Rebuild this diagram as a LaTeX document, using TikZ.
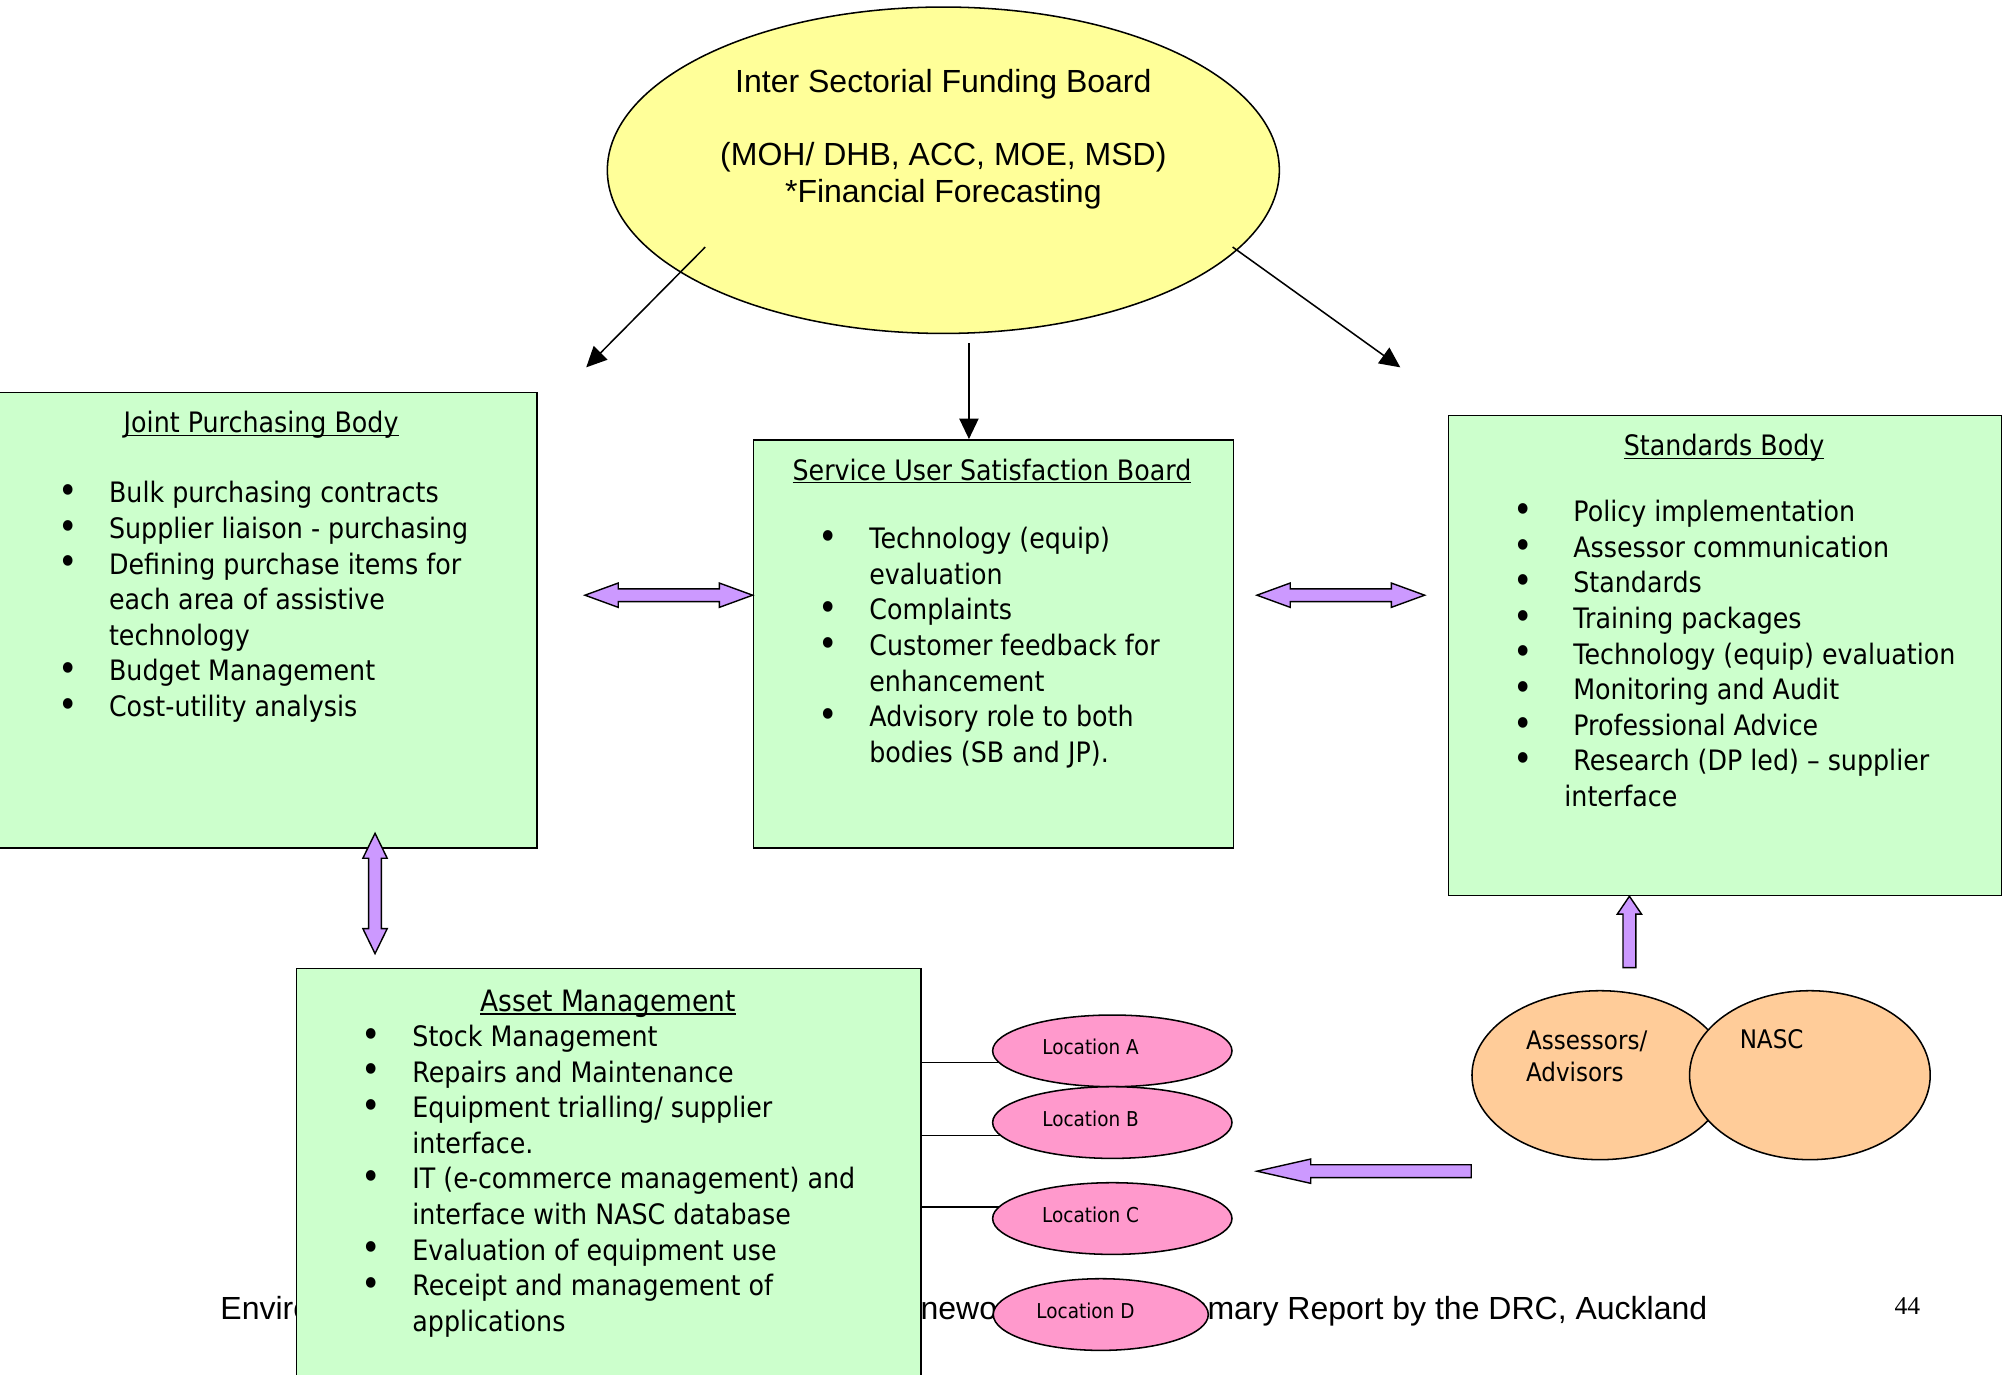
\documentclass[tikz,border=0pt]{standalone}
\usepackage{fontspec}
\setmainfont{Liberation Sans}
\newfontfamily\tah{DejaVu Sans}[FakeStretch=0.9]
\newfontfamily\tms{Liberation Serif}
\usetikzlibrary{shapes.geometric,arrows.meta,calc}
\definecolor{isfbyellow}{HTML}{FFFF99}
\definecolor{boxgreen}{HTML}{CCFFCC}
\definecolor{arrowpurple}{HTML}{CC99FF}
\definecolor{locpink}{HTML}{FF99CC}
\definecolor{assorange}{HTML}{FFCC99}
\newcommand{\bodyf}{\tah\fontsize{22}{27.8}\selectfont}
\newcommand{\itm}[2][64pt]{\strut\llap{\makebox[#1]{\raisebox{-0.6pt}{\scalebox{1.3}{\textbullet}}}}#2}
\newcommand{\ulx}[1]{{\setbox0\hbox{#1}\rlap{\rule[-2.6pt]{\wd0}{1.1pt}}\box0}}
% block arrows
\newcommand{\dblH}[3]{\draw[parrow] let \p1=(#1),\p2=(#2) in (\x1,\y1) -- (\x1+#3,\y1+9.5pt) -- (\x1+#3,\y1+5pt) -- (\x2-#3,\y1+5pt) -- (\x2-#3,\y1+9.5pt) -- (\x2,\y1) -- (\x2-#3,\y1-9.5pt) -- (\x2-#3,\y1-5pt) -- (\x1+#3,\y1-5pt) -- (\x1+#3,\y1-9.5pt) -- cycle;}
\newcommand{\dblV}[3]{\draw[parrow] let \p1=(#1),\p2=(#2) in (\x1,\y1) -- (\x1+9.5pt,\y1-#3) -- (\x1+5pt,\y1-#3) -- (\x1+5pt,\y2+#3) -- (\x1+9.5pt,\y2+#3) -- (\x1,\y2) -- (\x1-9.5pt,\y2+#3) -- (\x1-5pt,\y2+#3) -- (\x1-5pt,\y1-#3) -- (\x1-9.5pt,\y1-#3) -- cycle;}
\newcommand{\sglUp}[3]{\draw[parrow] let \p1=(#1),\p2=(#2) in (\x1,\y1) -- (\x1+9.5pt,\y1-#3) -- (\x1+5pt,\y1-#3) -- (\x1+5pt,\y2) -- (\x1-5pt,\y2) -- (\x1-5pt,\y1-#3) -- (\x1-9.5pt,\y1-#3) -- cycle;}
\newcommand{\sglLeft}[3]{\draw[parrow] let \p1=(#1),\p2=(#2) in (\x1,\y1) -- (\x1+#3,\y1+9.5pt) -- (\x1+#3,\y1+5pt) -- (\x2,\y1+5pt) -- (\x2,\y1-5pt) -- (\x1+#3,\y1-5pt) -- (\x1+#3,\y1-9.5pt) -- cycle;}
\pgfdeclarelayer{bg}
\pgfsetlayers{bg,main}
\begin{document}
\begin{tikzpicture}[x=1pt,y=-1pt,
  greenbox/.style={draw=black,line width=1.2pt,fill=boxgreen,rectangle,inner sep=0pt,anchor=north west},
  conn/.style={line width=1.2pt,-{Triangle[length=16pt,width=15pt]}},
  parrow/.style={draw=black,line width=1.1pt,fill=arrowpurple,line join=miter},
  plain/.style={line width=1.2pt},
  listtext/.style={anchor=north west,inner sep=0pt,align=left,font=\bodyf},
  headtext/.style={anchor=base,inner sep=0pt,font=\bodyf},
  loc/.style={ellipse,draw=black,line width=1.2pt,fill=locpink,inner sep=0pt,minimum height=56pt,minimum width=187pt},
  loctext/.style={inner sep=0pt,font=\tah\fontsize{16}{19}\selectfont},
  orangeell/.style={ellipse,draw=black,line width=1.2pt,fill=assorange,inner sep=0pt,minimum height=132pt},
  orangetext/.style={inner sep=0pt,align=left,font=\tah\fontsize{20}{25}\selectfont},
  footer/.style={inner sep=0pt,anchor=base west,font=\fontsize{25}{29}\selectfont}]
\useasboundingbox (0,0) rectangle (1568,1074);

% ---------- top ellipse ----------
\node[ellipse,draw=black,line width=1.2pt,fill=isfbyellow,minimum width=525pt,minimum height=255pt,inner sep=0pt] (isfb) at (737,133) {};
\node[anchor=north,inner sep=0pt,align=center,font=\fontsize{25}{28.5}\selectfont] (isfbtext) at (737,52.5)
  {\strut Inter Sectorial Funding Board\\[28.5pt]\strut(MOH/ DHB, ACC, MOE, MSD)\\\strut *Financial Forecasting};

% ---------- boxes ----------
\node[greenbox,minimum width=424pt,minimum height=356pt] (jp) at (-5,306) {};
\node[greenbox,minimum width=375pt,minimum height=319pt] (susb) at (588,343) {};
\node[greenbox,minimum width=432pt,minimum height=375pt] (std) at (1131,324) {};
\node[greenbox,minimum width=488pt,minimum height=340pt] (asset) at (231,756) {};

% Joint Purchasing Body
\node[headtext] (jphead) at (204,338) {\ulx{Joint Purchasing Body}};
\node[listtext] (jplist) at (85,373.2) {%
\itm{Bulk purchasing contracts}\\
\itm{Supplier liaison - purchasing}\\
\itm{Defining purchase items for}\\
\strut each area of assistive\\
\strut technology\\
\itm{Budget Management}\\
\itm{Cost-utility analysis}};

% Service User Satisfaction Board
\node[headtext] (susbhead) at (775,375) {\ulx{Service User Satisfaction Board}};
\node[listtext] (susblist) at (679,409) {%
\itm{Technology (equip)}\\
\strut evaluation\\
\itm{Complaints}\\
\itm{Customer feedback for}\\
\strut enhancement\\
\itm{Advisory role to both}\\
\strut bodies (SB and JP).};

% Standards Body
\node[headtext] (stdhead) at (1347,356) {\ulx{Standards Body}};
\node[listtext] (stdlist) at (1229,388) {%
\itm[78pt]{Policy implementation}\\
\itm[78pt]{Assessor communication}\\
\itm[78pt]{Standards}\\
\itm[78pt]{Training packages}\\
\itm[78pt]{Technology (equip) evaluation}\\
\itm[78pt]{Monitoring and Audit}\\
\itm[78pt]{Professional Advice}\\
\itm[78pt]{Research (DP led) – supplier}\\
\strut\hspace*{-7pt}interface};

% Asset Management
\node[headtext,font=\tah\fontsize{23}{27.8}\selectfont] (assethead) at (475,790) {\ulx{Asset Management}};
\node[listtext] (assetlist) at (322,798) {%
\itm{Stock Management}\\
\itm{Repairs and Maintenance}\\
\itm{Equipment trialling/ supplier}\\
\strut interface.\\
\itm{IT (e-commerce management) and}\\
\strut interface with NASC database\\
\itm{Evaluation of equipment use}\\
\itm{Receipt and management of}\\
\strut applications};

% ---------- locations ----------
\node[loc] (locA) at (869,821) {};
\node[loc] (locB) at (869,877) {};
\node[loc] (locC) at (869,952) {};
\node[loc,minimum width=168pt] (locD) at (860,1027) {};
\node[loctext] (locAt) at (852,818) {Location A};
\node[loctext] (locBt) at (852,874) {Location B};
\node[loctext] (locCt) at (852,949) {Location C};
\node[loctext] (locDt) at (848,1024) {Location D};

% ---------- assessors / NASC ----------
\node[orangeell,minimum width=200pt] (assess) at (1250,840) {};
\node[orangeell,minimum width=188pt] (nasc) at (1414,840) {};
\node[orangetext,anchor=north west] (assesst) at (1192,802.5) {\strut Assessors/\\\strut Advisors};
\node[orangetext,anchor=base west] (nasct) at (1359,819.5) {NASC};

% ---------- background: footer and plain connectors ----------
\coordinate (la) at ([yshift=-9pt]locA.center);
\coordinate (lb) at ([yshift=-10pt]locB.center);
\coordinate (lc) at ([yshift=9pt]locC.center);
\begin{pgfonlayer}{bg}
\fill[white] (0,0) rectangle (1568,1074);
\node[footer] (foot1) at (172,1031) {Envir\rlap{onment}};
\node[footer] (foot2) at (719,1031) {\llap{Frame}newo\rlap{rk}};
\node[footer,anchor=base east] (foot3) at (1334,1031) {\llap{Sum}mary Report by the DRC, Auckland};
\node[footer,font=\tms\fontsize{20}{24}\selectfont] (pagenum) at (1480,1027) {44};
\draw[plain] (asset.east |- la) -- (la);
\draw[plain] (asset.east |- lb) -- (lb);
\draw[plain] (asset.east |- lc) -- (lc);
\end{pgfonlayer}

% ---------- black arrows ----------
\coordinate (lstart) at (551,193);
\coordinate (ltip) at (458,287);
\coordinate (rstart) at (963,193);
\coordinate (rtip) at (1094,287);
\coordinate (mstart) at (757,268);
\draw[conn] (lstart) -- (ltip);
\draw[conn] (rstart) -- (rtip);
\draw[conn] (mstart) -- (mstart |- susb.north);

% ---------- purple block arrows ----------
\coordinate (dl1) at (457,465);
\coordinate (dl2) at (susb.west |- dl1);
\dblH{dl1}{dl2}{26pt}
\coordinate (dr1) at (982,465);
\coordinate (dr2) at (1113,465);
\dblH{dr1}{dr2}{26pt}
\coordinate (dv1) at (293,651);
\coordinate (dv2) at (293,745);
\dblV{dv1}{dv2}{19.5pt}
\coordinate (up2) at (1273,756);
\coordinate (up1) at (std.south -| up2);
\sglUp{up1}{up2}{14pt}
\coordinate (lf1) at (982,915);
\coordinate (lf2) at (assess.west |- lf1);
\sglLeft{lf1}{lf2}{42pt}
\end{tikzpicture}
\end{document}
